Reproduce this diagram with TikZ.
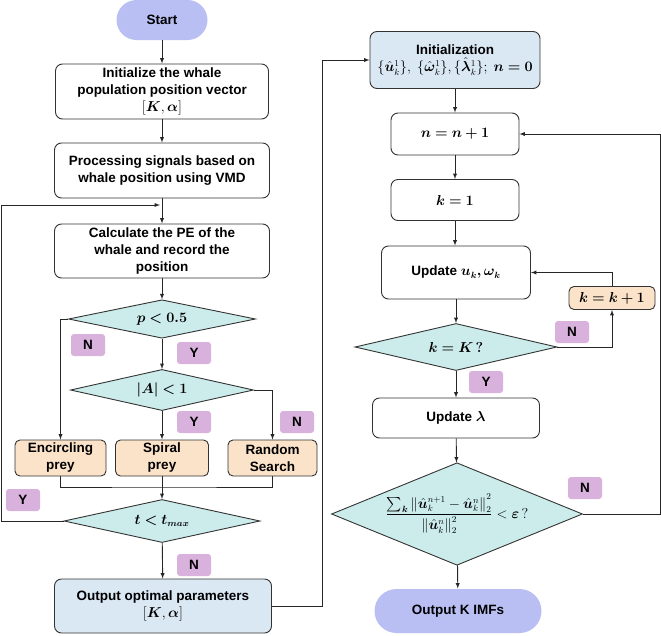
\documentclass[tikz,border=0pt]{standalone}
\usepackage{amsmath,bm}
\usepackage{fontspec}
\setmainfont{Liberation Sans}
\usetikzlibrary{shapes.geometric}

\definecolor{lavender}{HTML}{B9BFF3}
\definecolor{paleblue}{HTML}{DAE8F4}
\definecolor{palecyan}{HTML}{CCECEC}
\definecolor{peach}{HTML}{FBE3C9}
\definecolor{violet}{HTML}{D8B1DC}

\tikzset{
    txt/.style={font=\bfseries\fontsize{13.5}{17}\selectfont, align=center},
    proc/.style={txt, draw=black!80, rounded corners=7pt, fill=white, inner sep=1pt},
    term/.style={txt, draw=none, fill=lavender, rounded corners=20pt, inner sep=1pt},
    move/.style={proc, fill=peach, rounded corners=5pt},
    cond/.style={txt, draw=black!80, fill=palecyan, diamond, inner sep=-6pt},
    tag/.style={txt, fill=violet, rounded corners=3pt, minimum width=34pt, minimum height=22pt},
    arr/.style={-latex, black!85},
    ln/.style={black!85}
}

\begin{document}
\begin{tikzpicture}[x=1pt, y=-1pt, line width=0.9pt]
    \useasboundingbox (0,0) rectangle (661,635);

    % left column: WOA search
    \node[term, minimum width=91pt, minimum height=40pt] (start) at (162,20) {Start};
    \node[proc, minimum width=213pt, minimum height=55pt] (initw) at (162,91.5) {Initialize the whale\\population position vector\\$[\bm{K},\bm{\alpha}]$};
    \node[proc, minimum width=215pt, minimum height=55pt] (vmd) at (162,170.5) {Processing signals based on\\whale position using VMD};
    \node[proc, minimum width=215pt, minimum height=54pt] (pe) at (162,251) {Calculate the PE of the\\whale and record the\\position};
    \node[cond, minimum width=187pt, minimum height=34pt] (p) at (162,319) {$\bm{p<0.5}$};
    \node[cond, minimum width=183pt, minimum height=40pt] (absA) at (162,390) {$\bm{|A|<1}$};
    \node[move, minimum width=91pt, minimum height=36pt] (enc) at (60.5,458) {Encircling\\prey};
    \node[move, minimum width=93pt, minimum height=36pt] (spi) at (162,458) {Spiral\\prey};
    \node[move, minimum width=89pt, minimum height=36pt] (rnd) at (272.5,458) {Random\\Search};
    \node[cond, minimum width=196pt, minimum height=43pt] (tmax) at (162,521) {$\bm{t<t_{max}}$};
    \node[proc, fill=paleblue, minimum width=217pt, minimum height=54pt] (best) at (163,606) {Output optimal parameters\\$[\bm{K},\bm{\alpha}]$};

    \coordinate (jn) at (160,205);
    \coordinate (mg) at (162,487);

    \draw[arr] (start) -- (initw);
    \draw[arr] (initw) -- (vmd);
    \draw[arr] (vmd) -- (pe);
    \draw[arr] (pe) -- (p);
    \draw[arr] (p.west) -| (enc.north);
    \draw[arr] (p) -- (absA);
    \draw[arr] (absA) -- (spi);
    \draw[arr] (absA.east) -| (rnd.north);
    \draw[ln] (enc.south) |- (mg) -| (rnd.south);
    \draw[arr] (spi) -- (tmax);
    \draw[arr] (tmax.west) -- ++(-62,0) |- (jn);
    \draw[arr] (tmax) -- (best);

    \node[tag] (n1) at (88,345) {N};
    \node[tag] (y1) at (194,353) {Y};
    \node[tag] (y2) at (194,422) {Y};
    \node[tag] (n2) at (297,422) {N};
    \node[tag] (y3) at (23,500) {Y};
    \node[tag] (n3) at (194,565) {N};

    % right column: VMD
    \node[proc, fill=paleblue, minimum width=170pt, minimum height=57pt] (ini) at (455,60) {Initialization\\$\{\hat{\bm{u}}_k^1\},\ \{\hat{\bm{\omega}}_k^1\},\{\hat{\bm{\lambda}}_k^1\};\ \bm{n=0}$};
    \node[proc, minimum width=128pt, minimum height=42pt] (nn) at (455,134) {$\bm{n=n+1}$};
    \node[proc, minimum width=128pt, minimum height=41pt] (k1) at (455,200) {$\bm{k=1}$};
    \node[proc, minimum width=149pt, minimum height=53pt] (upd) at (456,272.5) {Update $\bm{u_k,\omega_k}$};
    \node[move, minimum width=86pt, minimum height=23pt] (kk) at (612,298) {$\bm{k=k+1}$};
    \node[cond, minimum width=202pt, minimum height=47pt] (kK) at (456,347) {$\bm{k=K\,?}$};
    \node[proc, minimum width=167pt, minimum height=40pt] (lam) at (456,418) {Update $\bm{\lambda}$};
    \node[cond, minimum width=251pt, minimum height=101pt, inner sep=-20pt] (conv) at (457,514)
        {$\dfrac{\sum_{\bm{k}}\left\|\hat{\bm{u}}_k^{n+1}-\hat{\bm{u}}_k^n\right\|_2^2}{\left\|\hat{\bm{u}}_k^n\right\|_2^2}<\bm{\varepsilon}\,?$};
    \node[term, minimum width=167pt, minimum height=44pt, rounded corners=22pt] (imf) at (458,611) {Output K IMFs};

    \draw[arr] (best.east) -- ++(50,0) |- (ini.west);
    \draw[arr] (ini.south -| nn) -- (nn);
    \draw[arr] (nn) -- (k1);
    \draw[arr] (k1) -- (upd.north -| k1);
    \draw[arr] (upd.south -| kK) -- (kK);
    \draw[arr] (kK.east) -| (kk.south);
    \draw[arr] (kk.north) |- (upd.east);
    \draw[arr] (kK) -- (lam);
    \draw[arr] (lam) -- (conv);
    \draw[arr] (conv.east) -- ++(77,0) |- (nn.east);
    \draw[arr] (conv) -- (imf);

    \node[tag] (n4) at (572,332) {N};
    \node[tag] (y4) at (486,382) {Y};
    \node[tag] (n5) at (585,488) {N};
\end{tikzpicture}
\end{document}
